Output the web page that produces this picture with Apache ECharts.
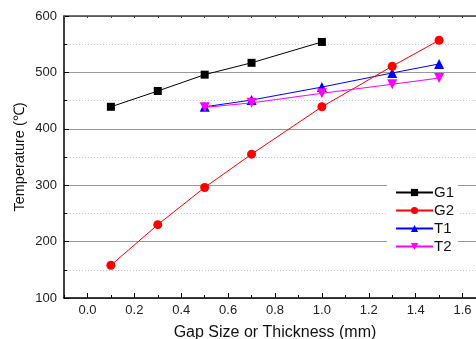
<!DOCTYPE html>
<html>
<head>
<meta charset="utf-8">
<script src="https://cdn.jsdelivr.net/npm/echarts@6/dist/echarts.min.js"></script>
<style>html,body{margin:0;padding:0;background:#fff}#c{width:476px;height:339px}</style>
</head>
<body>
<div id="c"></div>
<script>
const xG = [0.1, 0.3, 0.5, 0.7, 1.0];
const xAll = [0.1, 0.3, 0.5, 0.7, 1.0, 1.3, 1.5];
const xT = [0.5, 0.7, 1.0, 1.3, 1.5];
const G1 = [439, 467, 496, 517, 554];
const G2 = [158, 230, 296, 355, 439, 511, 557];
const T1 = [439, 451, 474, 499, 515];
const T2 = [438, 446, 463, 479, 490];
const xTickLabels = [0, 0.2, 0.4, 0.6, 0.8, 1.0, 1.2, 1.4, 1.6];

const pair = (xs, ys) => xs.map((x, i) => [x, ys[i]]);
const font = 'Liberation Sans, Arial, sans-serif';

const chart = echarts.init(document.getElementById('c'));
chart.setOption({
  animation: false,
  backgroundColor: '#fff',
  grid: { left: 64, top: 16, bottom: 41, right: -10, outerBoundsMode: 'none', containLabel: false },
  xAxis: [
    {
      type: 'value', min: -0.1, max: 1.7, interval: 0.1, position: 'bottom',
      name: 'Gap Size or Thickness (mm)', nameLocation: 'middle', nameGap: 27,
      nameTextStyle: { fontFamily: font, fontSize: 16, color: '#111' },
      axisLine: { show: true, onZero: false, lineStyle: { color: '#000', width: 1.5 } },
      axisTick: { show: true, inside: true, length: 3, lineStyle: { color: '#000' } },
      axisLabel: {
        customValues: xTickLabels,
        margin: 6, fontFamily: font, fontSize: 13, color: '#222',
        formatter: v => v.toFixed(1)
      },
      splitLine: { show: false }
    },
    {
      type: 'value', min: -0.1, max: 1.7, position: 'bottom',
      axisLine: { show: false, onZero: false },
      axisTick: { show: true, inside: true, length: 5, customValues: xTickLabels, lineStyle: { color: '#000' } },
      axisLabel: { show: false },
      splitLine: { show: false }
    },
    {
      type: 'value', min: -0.1, max: 1.7, interval: 0.1, position: 'top',
      axisLine: { show: true, onZero: false, lineStyle: { color: '#444', width: 1.5 } },
      axisTick: { show: true, inside: true, length: 2, lineStyle: { color: '#444' } },
      axisLabel: { show: false },
      splitLine: { show: false }
    }
  ],
  yAxis: {
    type: 'value', min: 100, max: 600, interval: 100,
    name: 'Temperature (℃)', nameLocation: 'middle', nameGap: 37, nameMoveOverlap: false,
    nameTextStyle: { fontFamily: font, fontSize: 14.5, color: '#111' },
    axisLine: { show: true, onZero: false, lineStyle: { color: '#000', width: 1.5 } },
    axisTick: { show: true, inside: true, length: 5, lineStyle: { color: '#000' } },
    minorTick: { show: true, splitNumber: 2, length: 3, lineStyle: { color: '#000' } },
    axisLabel: { margin: 7, fontFamily: font, fontSize: 13, color: '#222' },
    splitLine: { show: true, lineStyle: { color: '#999', width: 1 } },
    minorSplitLine: { show: true, lineStyle: { color: '#c8c8c8', type: [1, 2], width: 1 } }
  },
  legend: {
    orient: 'vertical', left: 387, top: 180,
    backgroundColor: '#fff', padding: [5, 4, 5, 8],
    itemWidth: 37, itemHeight: 9, itemGap: 3,
    textStyle: { fontFamily: font, fontSize: 15, lineHeight: 12, color: '#111', padding: [0, 0, 0, -4] },
    data: ['G1', 'G2', 'T1', 'T2']
  },
  series: [
    { name: 'G1', type: 'line', xAxisIndex: 0, data: pair(xG, G1), symbol: 'rect', symbolSize: 8,
      itemStyle: { color: '#000' }, lineStyle: { color: '#000', width: 1 }, z: 5 },
    { name: 'G2', type: 'line', xAxisIndex: 0, data: pair(xAll, G2), symbol: 'circle', symbolSize: 9,
      itemStyle: { color: '#ff0000' }, lineStyle: { color: '#ff0000', width: 1 }, z: 4 },
    { name: 'T1', type: 'line', xAxisIndex: 0, data: pair(xT, T1), symbol: 'triangle', symbolSize: 10,
      itemStyle: { color: '#0000ff' }, lineStyle: { color: '#0000ff', width: 1 }, z: 3 },
    { name: 'T2', type: 'line', xAxisIndex: 0, data: pair(xT, T2), symbol: 'triangle', symbolRotate: 180, symbolSize: 10,
      itemStyle: { color: '#ff00ff' }, lineStyle: { color: '#ff00ff', width: 1 }, z: 6 }
  ]
});
</script>
</body>
</html>
